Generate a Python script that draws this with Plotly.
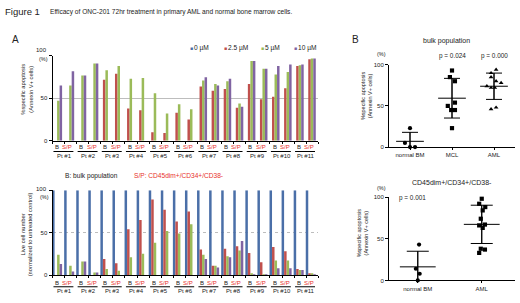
import numpy as np
import plotly.graph_objects as go

W, H = 520, 303
FONT = "Liberation Sans"
RED = "#E8312B"
INK = "#222222"

# ---------------- data ----------------
patients = [f"Pt #{i}" for i in range(1, 12)]
subsets = ["B", "S/P"]
doses = ["0 µM", "2.5 µM", "5 µM", "10 µM"]
colors = ["#4A6FA8", "#C0504D", "#9BBB59", "#8064A2"]

# panel A top: % specific apoptosis (order: Pt1 B, Pt1 S/P, Pt2 B, ...)
apop_0 = [0] * 22
apop_25 = [None, None, None, None, 72, 79, 38, 36, 10, 9, 33, 25,
           64, 59, 61, 39, 67, 49, 52, 62, 88, 96]
apop_5 = [47, 65, 77, 91, 83, 88, 73, 74, 56, 32, 43, 37,
          71, 67, 70, 44, 94, 85, 78, 81, 89, 97]
apop_10 = [65, 82, 77, 91, None, None, None, None, None, None, None, None,
           75, 65, 73, 40, 94, 85, 88, 90, 90, 97]

# panel A bottom: live cell number (% of untreated control)
live_0 = [100] * 22
live_25 = [None, None, None, None, 19, 14, 54, 65, 89, 77, 63, 75,
           30, 11, 31, 34, 26, 15, 33, 28, 7, 1.2]
live_5 = [24, 11, 16, 3, 7, 5, 21, 25, 38, 52, 49, 60,
          24, 11, 22, 29, 1.5, 0.5, 17, 17, 6, 1]
live_10 = [13, 4, 16, 3, None, None, None, None, None, None, None, None,
           19, 9, 21, 40, 0.8, 0.5, 8, 8, 6, 0.8]

# panel B: % specific apoptosis
bulk_cats = ["normal BM", "MCL", "AML"]
bulk_normal = [23, 5, 0, 0]
bulk_mcl = [93, 85, 80, 54, 50, 45, 45, 23]
bulk_aml = [94, 90, 85, 80, 78, 74, 72, 72, 48, 46]
bulk_p = ["", "p = 0.024", "p = 0.000"]

cd_cats = ["normal BM", "AML"]
cd_normal = [43, 14, 8, 0]
cd_aml = [98, 92, 88, 84, 74, 67, 66, 63, 38, 37, 33]
cd_p = "p = 0.001"

# horizontal scatter of the dots (category units)
bulk_jit = [[0, -0.12, 0, 0.12],
            [0, -0.05, 0.07, 0.07, -0.1, -0.02, 0.07, 0],
            [0.05, -0.07, -0.07, 0.05, 0.17, -0.17, -0.07, 0.02, 0.05, -0.07]]
cd_jit = [[0.02, -0.03, 0.03, 0],
          [0, -0.04, 0.055, 0.015, -0.015, 0.05, -0.04, 0.015, -0.015, 0.05, -0.04]]


def px(x):
    return x / W


def py(y):
    return 1 - y / H


fig = go.Figure()

groups = list(range(22))
for name, c, vals in zip(doses, colors, [apop_0, apop_25, apop_5, apop_10]):
    fig.add_trace(go.Bar(x=groups, y=vals, name=name, marker=dict(color=c, line=dict(width=0)),
                         xaxis="x", yaxis="y", showlegend=False))
for name, c, vals in zip(doses, colors, [live_0, live_25, live_5, live_10]):
    fig.add_trace(go.Bar(x=groups, y=vals, name=name, marker=dict(color=c, line=dict(width=0)),
                         xaxis="x2", yaxis="y2", showlegend=False))


def dot_plot(xa, ya, datasets, jits, symbols, half, cap, msize):
    for i, (vals, jit, sym) in enumerate(zip(datasets, jits, symbols)):
        v = np.array(vals, dtype=float)
        m = v.mean()
        sd = v.std(ddof=1)
        fig.add_trace(go.Scatter(x=[i, i], y=[m - sd, m + sd], mode="lines",
                                 line=dict(color="black", width=1), xaxis=xa, yaxis=ya,
                                 showlegend=False, hoverinfo="skip"))
        fig.add_trace(go.Scatter(x=[i], y=[m], mode="markers",
                                 marker=dict(size=1, color="rgba(0,0,0,0)"),
                                 error_y=dict(type="data", array=[sd], color="black",
                                              thickness=1, width=cap),
                                 xaxis=xa, yaxis=ya, showlegend=False))
        fig.add_trace(go.Scatter(x=[i - half, i + half], y=[m, m], mode="lines",
                                 line=dict(color="black", width=1), xaxis=xa, yaxis=ya,
                                 showlegend=False))
        fig.add_trace(go.Scatter(x=[i + j for j in jit], y=vals, mode="markers",
                                 marker=dict(symbol=sym, size=msize, color="black"),
                                 xaxis=xa, yaxis=ya, showlegend=False, cliponaxis=False))


dot_plot("x3", "y3", [bulk_normal, bulk_mcl, bulk_aml], bulk_jit,
         ["circle", "square", "triangle-up"], 0.33, 8, 4.2)
dot_plot("x4", "y4", [cd_normal, cd_aml], cd_jit,
         ["circle", "square"], 0.28, 11, 4.2)

bar_dom = [px(52.5), px(52.5 + 22 * 12.08)]
tick_bounds = [k - 0.38 for k in range(23)]
tfont = dict(family=FONT, size=6, color=INK)

common_bar_x = dict(domain=bar_dom, range=[-0.38, 21.62], showline=True, linecolor="black",
                    linewidth=1, ticks="outside", ticklen=2, tickcolor="black",
                    tickvals=tick_bounds, showticklabels=False, showgrid=False, zeroline=False)
common_bar_y = dict(range=[0, 100], showline=True, linecolor="black", linewidth=1,
                    ticks="outside", ticklen=3, tickcolor="black", tickvals=[0, 50, 100],
                    ticktext=["0", "50", ""], tickfont=tfont, showgrid=True,
                    gridcolor="#BDBDBD", gridwidth=1, zeroline=False)

fig.update_layout(
    width=W, height=H, margin=dict(l=0, r=0, t=0, b=0),
    paper_bgcolor="white", plot_bgcolor="white",
    barmode="group", bargap=0.17, bargroupgap=0,
    font=dict(family=FONT, color=INK),
    xaxis=dict(**common_bar_x, anchor="y"),
    yaxis=dict(**common_bar_y, domain=[py(140.5), py(54)], anchor="x"),
    xaxis2=dict(**common_bar_x, anchor="y2"),
    yaxis2=dict(**common_bar_y, domain=[py(277.5), py(191)], anchor="x2", griddash="dot"),
    xaxis3=dict(domain=[px(389), px(515)], range=[-0.5, 2.5], anchor="y3",
                showline=True, linecolor="black", linewidth=1, ticks="outside", ticklen=2,
                tickcolor="black", tickvals=[0, 1, 2], ticktext=bulk_cats, tickfont=tfont,
                showgrid=False, zeroline=False),
    yaxis3=dict(domain=[py(147), py(63)], range=[0, 100], anchor="x3", showline=True,
                linecolor="black", linewidth=1, ticks="outside", ticklen=3, tickcolor="black",
                tickvals=[0, 50, 100], tickfont=tfont, showgrid=False, zeroline=False),
    xaxis4=dict(domain=[px(389), px(515)], range=[-0.45, 1.52], anchor="y4",
                showline=True, linecolor="black", linewidth=1, ticks="outside", ticklen=2,
                tickcolor="black", tickvals=[0, 1], ticktext=cd_cats, tickfont=tfont,
                showgrid=False, zeroline=False),
    yaxis4=dict(domain=[py(283), py(198)], range=[0, 100], anchor="x4", showline=True,
                linecolor="black", linewidth=1, ticks="outside", ticklen=3, tickcolor="black",
                tickvals=[0, 50, 100], tickfont=tfont, showgrid=False, zeroline=False),
)

ann = []


def text(x, y, s, size=6, color=INK, xanchor="center", angle=0, xref="paper"):
    ann.append(dict(x=x if xref != "paper" else px(x), y=py(y), xref=xref, yref="paper",
                    text=s, showarrow=False, xanchor=xanchor, yanchor="middle",
                    textangle=angle, font=dict(family=FONT, size=size, color=color)))


text(3, 9, "Figure 1", size=9.5, xanchor="left")
text(48, 9, "Efficacy of ONC-201 72hr treatment in primary AML and normal bone marrow cells.",
     size=6.6, xanchor="left")
text(10, 37, "A", size=10, xanchor="left")
text(350, 37, "B", size=10, xanchor="left")

# legend
for x0, name, c in zip([188, 222, 258.5, 291.5], doses, colors):
    text(x0, 46, "■", size=5, color=c, xanchor="left")
    text(x0 + 4, 46, name, size=6.6, xanchor="left")

# y titles, top tick label and (%)
text(27.5, 88, "%specific apoptosis<br>(Annexin V+ cells)", size=5.8, angle=-90)
text(49, 48, "100", size=6, xanchor="right")
text(43.5, 57.5, "(%)", size=5.5)
text(27, 236, "Live cell number<br>(normalized to untreated control)", size=5.8, angle=-90)
text(49, 189.5, "100", size=6, xanchor="right")
text(44.5, 197.5, "(%)", size=5.5)
text(366, 95, "%specific apoptosis<br>(Annexin V+ cells)", size=5.5, angle=-90)
text(381, 52, "(%)", size=5.5)
text(362, 235, "%specific apoptosis<br>(Annexin V+ cells)", size=5.5, angle=-90)
text(381, 189, "(%)", size=5.5)

# subset / patient labels under the bar charts
shapes = []
for yB, yU, yP in [(147, 151.5, 156.5), (285.5, 289.5, 294)]:
    for k, pt in enumerate(patients):
        text(2 * k, yB, subsets[0], size=6, xref="x")
        text(2 * k + 0.85, yB, subsets[1], size=6, color=RED, xref="x")
        text(2 * k + 0.6, yP, pt, size=6, xref="x")
        shapes.append(dict(type="line", xref="x", yref="paper", x0=2 * k - 0.3, x1=2 * k + 1.35,
                           y0=py(yU), y1=py(yU), line=dict(color="black", width=1)))

text(63, 176, "B: bulk population", size=6.6, xanchor="left")
text(131.5, 176, "S/P: CD45dim+/CD34+/CD38-", size=6.6, color=RED, xanchor="left")

# dot plot titles / p values
text(446, 39, "bulk population", size=7)
for i, p in enumerate(bulk_p):
    if p:
        ann.append(dict(x=i, y=py(54), xref="x3", yref="paper", text=p, showarrow=False,
                        yanchor="middle", font=dict(family=FONT, size=6.4, color=INK)))
text(452, 183, "CD45dim+/CD34+/CD38-", size=7)
text(412, 199, cd_p, size=6.4)

fig.update_layout(annotations=ann, shapes=shapes)
fig.write_html("out.html", config={"displayModeBar": False},
               post_script="document.body.style.margin='0';document.body.style.padding='0';")
